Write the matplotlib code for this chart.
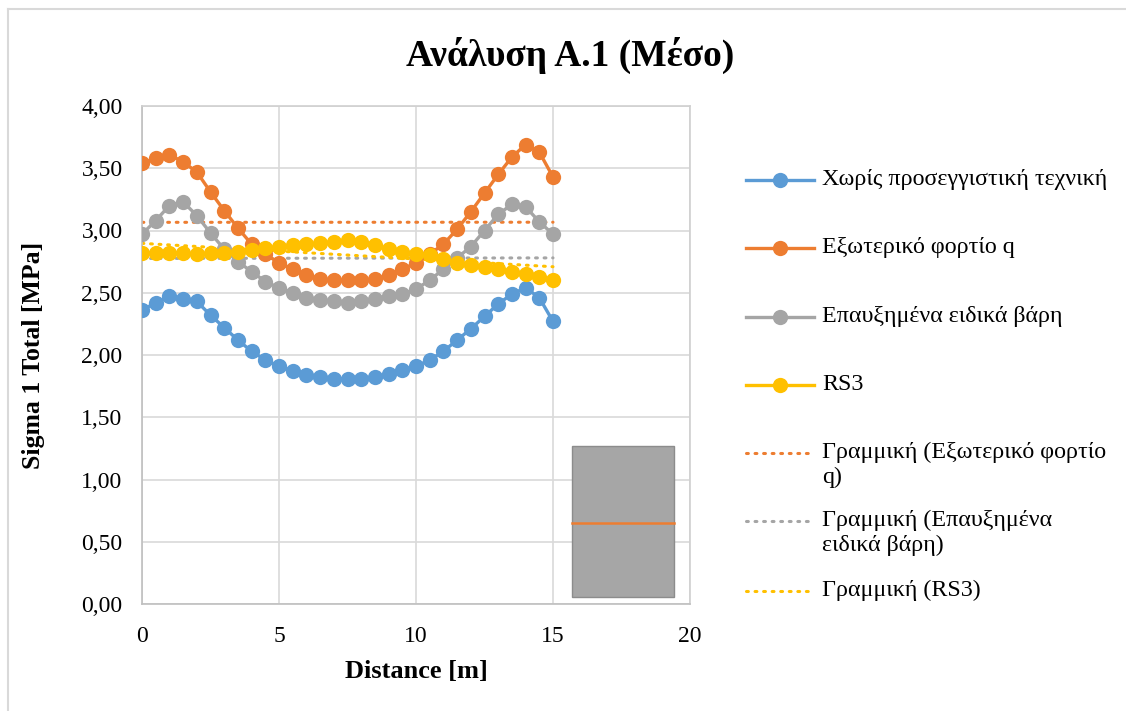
import numpy as np
import matplotlib
matplotlib.use("Agg")
import matplotlib.pyplot as plt
from matplotlib.lines import Line2D
from matplotlib.patches import Rectangle

plt.rcParams['font.family'] = ['Liberation Serif', 'DejaVu Serif']

distance = [0, 0.5, 1, 1.5, 2, 2.5, 3, 3.5, 4, 4.5, 5, 5.5, 6, 6.5, 7, 7.5,
            8, 8.5, 9, 9.5, 10, 10.5, 11, 11.5, 12, 12.5, 13, 13.5, 14, 14.5, 15]
no_technique = [2.36, 2.42, 2.47, 2.45, 2.43, 2.32, 2.22, 2.12, 2.03, 1.96, 1.91,
                1.87, 1.84, 1.82, 1.81, 1.81, 1.81, 1.82, 1.85, 1.88, 1.91, 1.96,
                2.03, 2.12, 2.21, 2.31, 2.41, 2.49, 2.54, 2.46, 2.27]
external_q = [3.54, 3.58, 3.61, 3.55, 3.47, 3.31, 3.16, 3.02, 2.89, 2.81, 2.74,
              2.69, 2.64, 2.61, 2.60, 2.60, 2.60, 2.61, 2.64, 2.69, 2.74, 2.81,
              2.89, 3.01, 3.15, 3.30, 3.45, 3.59, 3.69, 3.63, 3.43]
increased_w = [2.97, 3.08, 3.20, 3.23, 3.12, 2.98, 2.85, 2.75, 2.67, 2.59, 2.54,
               2.50, 2.46, 2.44, 2.43, 2.42, 2.43, 2.45, 2.47, 2.49, 2.53, 2.60,
               2.69, 2.78, 2.87, 3.00, 3.13, 3.21, 3.19, 3.07, 2.97]
rs3 = [2.82, 2.82, 2.82, 2.82, 2.81, 2.82, 2.82, 2.83, 2.84, 2.86, 2.87, 2.88,
       2.89, 2.90, 2.91, 2.92, 2.91, 2.88, 2.85, 2.83, 2.81, 2.80, 2.77, 2.74,
       2.72, 2.71, 2.69, 2.67, 2.65, 2.63, 2.60]

labels = ["Χωρίς προσεγγιστική τεχνική", "Εξωτερικό φορτίο q",
          "Επαυξημένα ειδικά βάρη", "RS3",
          "Γραμμική (Εξωτερικό φορτίο\nq)", "Γραμμική (Επαυξημένα\nειδικά βάρη)",
          "Γραμμική (RS3)"]
title = "Ανάλυση Α.1 (Μέσο)"
xlabel = "Distance [m]"
ylabel = "Sigma 1 Total [MPa]"
x_ticks = [0, 5, 10, 15, 20]
y_ticks = [0.0, 0.5, 1.0, 1.5, 2.0, 2.5, 3.0, 3.5, 4.0]

# embedded gray shape (data coords): x0, x1, y0, y1, orange line level
shape_box = [15.7, 19.4, 0.06, 1.27, 0.65]

c_blue, c_orange, c_gray, c_yellow = "#5B9BD5", "#ED7D31", "#A5A5A5", "#FFC000"

W, H = 1126, 711
fig = plt.figure(figsize=(W / 100, H / 100), dpi=100)
ax = fig.add_axes([142 / W, 1 - 604 / H, (690 - 142) / W, (604 - 106) / H])

x = np.array(distance)
series = [(no_technique, c_blue), (external_q, c_orange),
          (increased_w, c_gray), (rs3, c_yellow)]
for vals, col in series:
    ax.plot(x, vals, color=col, lw=2.4, marker='o', markersize=11,
            markeredgewidth=0, zorder=3)

# linear trendlines
for vals, col in [(external_q, c_orange), (increased_w, c_gray), (rs3, c_yellow)]:
    k, b = np.polyfit(x, vals, 1)
    xx = np.array([x.min(), x.max()])
    ax.plot(xx, k * xx + b, color=col, lw=2.2, linestyle=(0, (0.6, 2.2)),
            dash_capstyle='round', zorder=2)

ax.set_xlim(0, 20)
ax.set_ylim(0, 4)
ax.set_xticks(x_ticks)
ax.set_yticks(y_ticks)
ax.set_yticklabels([f"{v:.2f}".replace('.', ',') for v in y_ticks])
ax.tick_params(axis='y', length=0, labelsize=17, pad=14)
ax.tick_params(axis='x', length=0, labelsize=17, pad=16)
ax.grid(True, color="#D9D9D9", lw=1.2)
ax.set_axisbelow(True)
for s in ax.spines.values():
    s.set_color("#D0D0D0")
    s.set_linewidth(1.2)
ax.spines['left'].set_color("#BFBFBF")
ax.spines['bottom'].set_color("#BFBFBF")

ax.set_xlabel(xlabel, fontsize=19, fontweight='bold', labelpad=9)
ax.set_ylabel(ylabel, fontsize=18.5, fontweight='bold', labelpad=26)

x0, x1, y0, y1, yl = shape_box
ax.add_patch(Rectangle((x0, y0), x1 - x0, y1 - y0, facecolor="#A6A6A6",
                       edgecolor="#8C8C8C", lw=1, zorder=4, clip_on=False))
ax.plot([x0, x1], [yl, yl], color=c_orange, lw=1.8, zorder=5, clip_on=False)

fig.text(570 / W, 1 - 55 / H, title, fontsize=27, fontweight='bold',
         ha='center', va='center')

# outer chart border
fig.add_artist(Line2D([8 / W, 1.0], [1 - 9 / H, 1 - 9 / H], color="#D9D9D9",
                      lw=1.5, transform=fig.transFigure))
fig.add_artist(Line2D([8 / W, 8 / W], [1 - 9 / H, 0], color="#D9D9D9",
                      lw=1.5, transform=fig.transFigure))

# legend drawn manually
leg_y = [180, 248, 317, 385, 453, 521, 591]
styles = [(c_blue, '-', 'o'), (c_orange, '-', 'o'), (c_gray, '-', 'o'),
          (c_yellow, '-', 'o'), (c_orange, ':', None), (c_gray, ':', None),
          (c_yellow, ':', None)]
for yy, lab, (col, ls, mk) in zip(leg_y, labels, styles):
    fy = 1 - yy / H
    if ls == '-':
        fig.add_artist(Line2D([746 / W, 814 / W], [fy, fy], color=col, lw=2.4,
                              transform=fig.transFigure))
        fig.add_artist(Line2D([780 / W], [fy], color=col, marker='o',
                              markersize=11, markeredgewidth=0,
                              transform=fig.transFigure))
    else:
        fig.add_artist(Line2D([746 / W, 814 / W], [fy, fy], color=col, lw=2.2,
                              linestyle=(0, (0.6, 2.2)), dash_capstyle='round',
                              transform=fig.transFigure))
    fig.text(822 / W, fy + 11 / H, lab, fontsize=17.3, ha='left', va='top',
             linespacing=1.25, transform=fig.transFigure)

fig.savefig("out.png", dpi=100, facecolor='white')
